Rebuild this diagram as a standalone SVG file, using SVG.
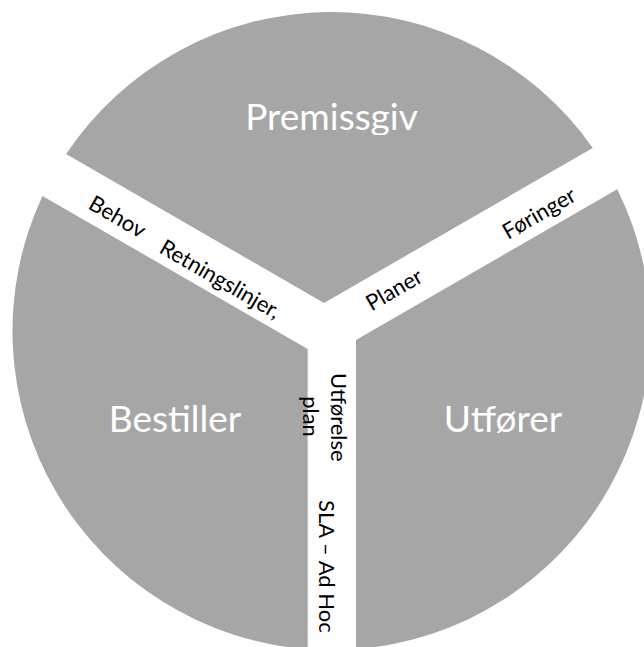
<svg xmlns="http://www.w3.org/2000/svg" width="644" height="647" viewBox="0 0 644 647">
  <style>
    .wedge { fill: #a6a6a6; stroke: none; }
    .big { font-family: Lato, "Liberation Sans", sans-serif; font-size: 37px; fill: #ffffff; text-anchor: middle; }
    .lbl { font-family: Lato, "Liberation Sans", sans-serif; font-size: 22px; fill: #000000; }
  </style>
  <defs>
    <clipPath id="clipPrem">
      <rect x="0" y="0" width="644" height="135"/>
    </clipPath>
  </defs>
  <rect x="0" y="0" width="644" height="647" fill="#ffffff"/>

  <g id="premissgiv">
    <path class="wedge" d="M324,303 L66.1,154.1 A319,319 0 0 1 592.7,147.9 Z"/>
    <text class="big" x="331.5" y="130" clip-path="url(#clipPrem)">Premissgiv</text>
  </g>

  <g id="bestiller">
    <path class="wedge" d="M307.7,349 L307.7,649.1 A319,319 0 0 1 42.5,195.9 Z"/>
    <text class="big" x="175" y="432">Bestiller</text>
  </g>

  <g id="utforer">
    <path class="wedge" d="M356,340 L617.2,189.2 A319,319 0 0 1 356,649.1 Z"/>
    <text class="big" x="503" y="432">Utfører</text>
  </g>

  <g id="band-labels">
    <text class="lbl" transform="translate(87,208) rotate(30)">Behov</text>
    <text class="lbl" transform="translate(158,252) rotate(30)">Retningslinjer,</text>
    <text class="lbl" transform="translate(371.5,311.5) rotate(-30)">Planer</text>
    <text class="lbl" transform="translate(508,240) rotate(-30)">Føringer</text>
    <text class="lbl" transform="translate(331,373) rotate(90)">Utførelse</text>
    <text class="lbl" text-anchor="middle" transform="translate(303,416.5) rotate(90)">plan</text>
    <text class="lbl" transform="translate(319,500) rotate(90)">SLA – Ad Hoc</text>
  </g>
</svg>
